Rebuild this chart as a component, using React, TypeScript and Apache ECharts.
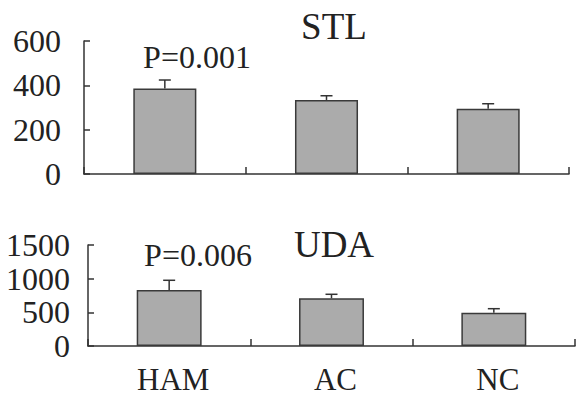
import React, { useEffect, useRef } from "react";
import * as echarts from "echarts";

const categories = ["HAM", "AC", "NC"];
const stlMeans = [386, 334, 294];
const stlUpper = [424, 353, 317];
const udaMeans = [832, 708, 495];
const udaUpper = [976, 768, 554];
const stlTicks = [0, 600, 200];
const udaTicks = [0, 1500, 500];
const titles = ["STL", "UDA"];
const pLabels = ["P=0.001", "P=0.006"];

const FONT = "'Liberation Serif', 'Times New Roman', serif";
const AX = "#333";

function errSeries(upper: number[], means: number[], idx: number) {
  return {
    type: "custom",
    xAxisIndex: idx,
    yAxisIndex: idx,
    z: 1,
    data: categories.map((_, i) => [i, means[i], upper[i]]),
    renderItem: (params: any, api: any) => {
      const x = api.value(0);
      const lo = api.coord([x, api.value(1)]);
      const hi = api.coord([x, api.value(2)]);
      const style = { stroke: "#333", lineWidth: 1.5 };
      return {
        type: "group",
        children: [
          { type: "line", shape: { x1: lo[0], y1: lo[1], x2: hi[0], y2: hi[1] }, style },
          { type: "line", shape: { x1: hi[0] - 6, y1: hi[1], x2: hi[0] + 6, y2: hi[1] }, style },
        ],
      };
    },
  };
}

export default function App() {
  const ref = useRef<HTMLDivElement>(null);
  useEffect(() => {
    document.body.style.margin = "0";
    const chart = echarts.init(ref.current!, null, { renderer: "svg" });
    const yAxisCommon = (ticks: number[], margin: number) => ({
      type: "value",
      min: ticks[0],
      max: ticks[1],
      interval: ticks[2],
      splitLine: { show: false },
      axisLine: { show: true, lineStyle: { color: AX, width: 1.5 } },
      axisTick: { show: true, inside: true, length: 6, lineStyle: { color: AX, width: 1.5 } },
      axisLabel: {
        color: "#222",
        fontFamily: FONT,
        fontSize: 32,
        lineHeight: 28,
        margin,
        formatter: (v: number) => String(v),
      },
    });
    const xAxisCommon = (showLabels: boolean) => ({
      type: "category",
      data: categories,
      boundaryGap: true,
      axisLine: { show: true, lineStyle: { color: AX, width: 1.5 } },
      axisTick: { show: true, inside: true, length: 7, lineStyle: { color: AX, width: 1.5 } },
      axisLabel: {
        show: showLabels,
        color: "#222",
        fontFamily: FONT,
        fontSize: 31,
        lineHeight: 26,
        margin: 20,
        padding: [0, 0, 0, 8],
      },
    });
    const barStyle = { color: "#ababab", borderColor: "#3a3a3a", borderWidth: 1.5 };
    chart.setOption({
      animation: false,
      backgroundColor: "#fff",
      grid: [
        { left: 84, right: 7, top: 41, height: 133 },
        { left: 88, right: 1, top: 245, height: 101 },
      ],
      xAxis: [
        { ...xAxisCommon(false), gridIndex: 0 },
        { ...xAxisCommon(true), gridIndex: 1 },
      ],
      yAxis: [
        { ...yAxisCommon(stlTicks, 23), gridIndex: 0 },
        { ...yAxisCommon(udaTicks, 18), gridIndex: 1 },
      ],
      series: [
        { type: "bar", xAxisIndex: 0, yAxisIndex: 0, data: stlMeans, barWidth: "39%", itemStyle: barStyle, z: 2 },
        { type: "bar", xAxisIndex: 1, yAxisIndex: 1, data: udaMeans, barWidth: "40%", itemStyle: barStyle, z: 2 },
        errSeries(stlUpper, stlMeans, 0),
        errSeries(udaUpper, udaMeans, 1),
      ],
      graphic: [
        { type: "text", x: 334, y: 26, style: { text: titles[0], font: `37px ${FONT}`, fill: "#222", textAlign: "center", textVerticalAlign: "middle" } },
        { type: "text", x: 334, y: 244, style: { text: titles[1], font: `37px ${FONT}`, fill: "#222", textAlign: "center", textVerticalAlign: "middle" } },
        { type: "text", x: 197, y: 57, style: { text: pLabels[0], font: `32px ${FONT}`, fill: "#222", textAlign: "center", textVerticalAlign: "middle" } },
        { type: "text", x: 198, y: 255, style: { text: pLabels[1], font: `32px ${FONT}`, fill: "#222", textAlign: "center", textVerticalAlign: "middle" } },
      ],
    });
    return () => chart.dispose();
  }, []);
  return <div ref={ref} style={{ width: 576, height: 395 }} />;
}
